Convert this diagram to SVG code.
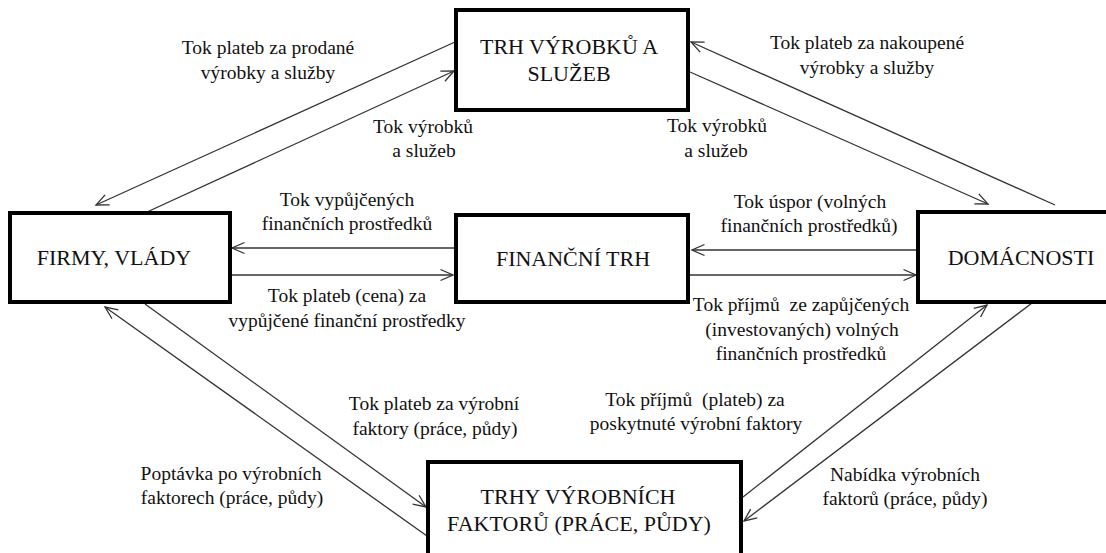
<svg xmlns="http://www.w3.org/2000/svg" width="1106" height="553" viewBox="0 0 1106 553">
<style>
.box{fill:#fff;stroke:#000;stroke-width:4}
.nt{font-family:'Liberation Serif','Times New Roman',serif;font-size:22px;fill:#111;text-anchor:middle}
.lt{font-family:'Liberation Serif','Times New Roman',serif;font-size:19.5px;fill:#111;text-anchor:middle}
.cn{stroke:#333;stroke-width:1.3;fill:none;marker-end:url(#ah)}
</style>
<defs>
<marker id="ah" markerUnits="userSpaceOnUse" viewBox="-14 -8 16 16" markerWidth="16" markerHeight="16" refX="0" refY="0" orient="auto">
<path d="M-12.5,-5.5 L0,0 L-12.5,5.5" fill="none" stroke="#333" stroke-width="1.3"/>
</marker>
</defs>
<rect width="1106" height="553" fill="#fff"/>
<g id="connectors">
<line class="cn" x1="455" y1="42" x2="96" y2="205"/>
<line class="cn" x1="147" y1="212" x2="454" y2="71"/>
<line class="cn" x1="1055" y1="205" x2="691" y2="42"/>
<line class="cn" x1="690" y1="72" x2="988" y2="204"/>
<line class="cn" x1="456" y1="248" x2="232" y2="248"/>
<line class="cn" x1="231" y1="275" x2="453" y2="275"/>
<line class="cn" x1="918" y1="250" x2="692" y2="250"/>
<line class="cn" x1="690" y1="275" x2="916" y2="275"/>
<line class="cn" x1="427" y1="536" x2="105" y2="307"/>
<line class="cn" x1="145" y1="304" x2="426" y2="507"/>
<line class="cn" x1="743" y1="497" x2="987" y2="305"/>
<line class="cn" x1="1032" y1="303" x2="744" y2="521"/>
</g>
<g id="labels">
<text class="lt" x="268" y="54">Tok plateb za prodané</text>
<text class="lt" x="268" y="79">výrobky a služby</text>
<text class="lt" x="423" y="133">Tok výrobků</text>
<text class="lt" x="424" y="157">a služeb</text>
<text class="lt" x="867" y="49">Tok plateb za nakoupené</text>
<text class="lt" x="867" y="74">výrobky a služby</text>
<text class="lt" x="717" y="132">Tok výrobků</text>
<text class="lt" x="716" y="157">a služeb</text>
<text class="lt" x="347" y="206">Tok vypůjčených</text>
<text class="lt" x="347" y="230">finančních prostředků</text>
<text class="lt" x="347" y="302">Tok plateb (cena) za</text>
<text class="lt" x="347" y="327">vypůjčené finanční prostředky</text>
<text class="lt" x="810" y="208">Tok úspor (volných</text>
<text class="lt" x="809" y="232">finančních prostředků)</text>
<text class="lt" x="801" y="311" xml:space="preserve">Tok příjmů  ze zapůjčených</text>
<text class="lt" x="802" y="336">(investovaných) volných</text>
<text class="lt" x="801" y="360">finančních prostředků</text>
<text class="lt" x="434" y="410">Tok plateb za výrobní</text>
<text class="lt" x="435" y="435">faktory (práce, půdy)</text>
<text class="lt" x="695" y="406" xml:space="preserve">Tok příjmů  (plateb) za</text>
<text class="lt" x="696" y="430">poskytnuté výrobní faktory</text>
<text class="lt" x="231" y="480">Poptávka po výrobních</text>
<text class="lt" x="232" y="504">faktorech (práce, půdy)</text>
<text class="lt" x="905" y="481">Nabídka výrobních</text>
<text class="lt" x="905" y="505">faktorů (práce, půdy)</text>
</g>
<g id="node-trh-vyrobku">
<rect class="box" x="456" y="10" width="232" height="100"/>
<text class="nt" x="569" y="54">TRH VÝROBKŮ A</text>
<text class="nt" x="569" y="81">SLUŽEB</text>
</g>
<g id="node-firmy">
<rect class="box" x="10" y="213" width="220" height="89"/>
<text class="nt" x="114" y="265">FIRMY, VLÁDY</text>
</g>
<g id="node-financni-trh">
<rect class="box" x="456" y="215" width="232" height="87"/>
<text class="nt" x="573" y="266">FINANČNÍ TRH</text>
</g>
<g id="node-domacnosti">
<rect class="box" x="918" y="212" width="200" height="90"/>
<text class="nt" x="1021" y="265">DOMÁCNOSTI</text>
</g>
<g id="node-trhy-faktoru">
<rect class="box" x="428" y="462" width="313" height="110"/>
<text class="nt" x="578" y="504">TRHY VÝROBNÍCH</text>
<text class="nt" x="579" y="531">FAKTORŮ (PRÁCE, PŮDY)</text>
</g>
</svg>
